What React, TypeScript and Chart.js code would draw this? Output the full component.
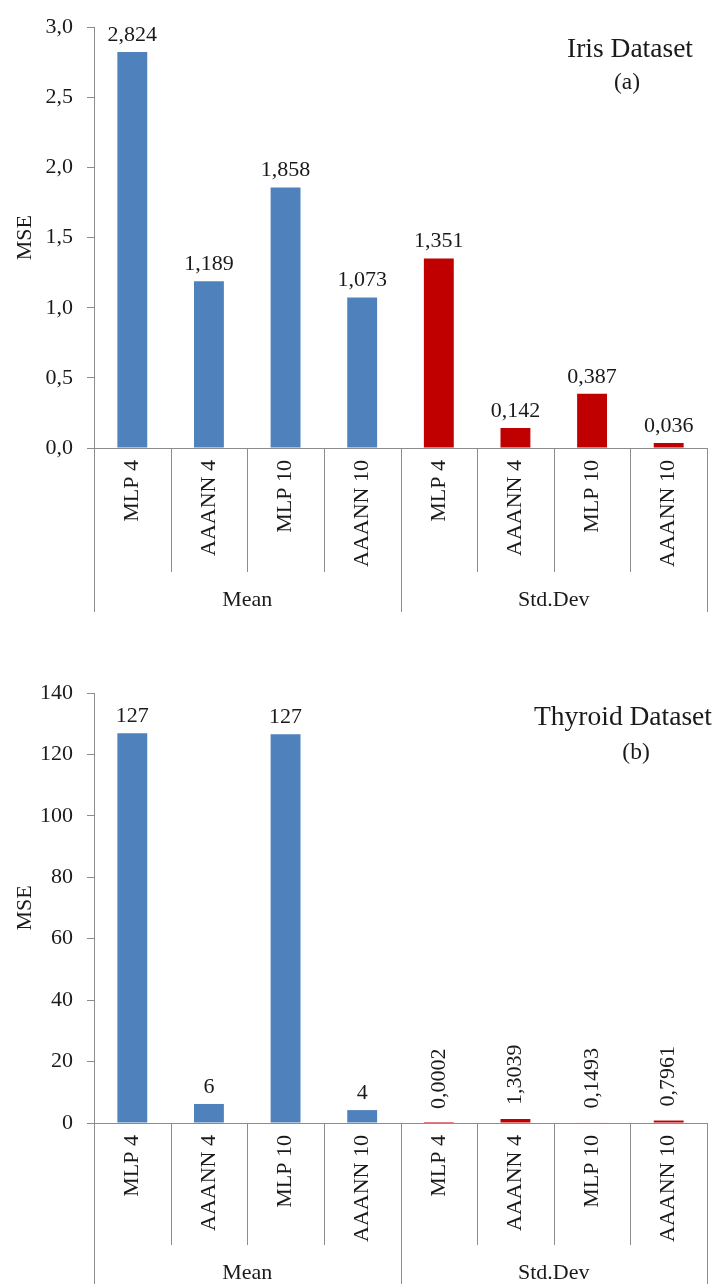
import React, { useEffect, useRef } from 'react';
import { Chart, registerables } from 'chart.js';

Chart.register(...registerables);

// ---------- data ----------
const categories = ['MLP 4', 'AAANN 4', 'MLP 10', 'AAANN 10', 'MLP 4', 'AAANN 4', 'MLP 10', 'AAANN 10'];
const groups = ['Mean', 'Std.Dev'];
const groupSizes = [4, 4];

const irisValues = [2.824, 1.189, 1.858, 1.073, 1.351, 0.142, 0.387, 0.036];
const irisLabels = ['2,824', '1,189', '1,858', '1,073', '1,351', '0,142', '0,387', '0,036'];
const irisYMax = 3;
const irisYStep = 0.5;

const thyroidValues = [126.9, 6.2, 126.6, 4.2, 0.0002, 1.3039, 0.1493, 0.7961];
const thyroidLabels = ['127', '6', '127', '4', '0,0002', '1,3039', '0,1493', '0,7961'];
const thyroidYMax = 140;
const thyroidYStep = 20;

// ---------- styles ----------
const FONT = '"Liberation Serif", "Times New Roman", serif';
const FS = 22;
const BLUE = '#4F81BD';
const RED = '#C00000';
const AXIS = '#8c8c8c';
const TEXT = '#1a1a1a';

const groupColors = [BLUE, RED];
const barColors: string[] = [];
groups.forEach((_, gi) => {
  for (let k = 0; k < groupSizes[gi]; k++) barColors.push(groupColors[gi]);
});

const decorPlugin = {
  id: 'decor',
  afterDraw(chart: any, _args: any, opts: any) {
    const { ctx, chartArea } = chart;
    const x = chart.scales.x;
    ctx.save();
    ctx.fillStyle = TEXT;
    ctx.font = `${FS}px ${FONT}`;

    // value labels
    const meta = chart.getDatasetMeta(0);
    meta.data.forEach((bar: any, i: number) => {
      const text = opts.valueLabels[i];
      const bx = bar.x;
      const by = bar.y;
      if (opts.rotated && opts.rotated[i]) {
        ctx.save();
        ctx.translate(bx, by - 14);
        ctx.rotate(-Math.PI / 2);
        ctx.textAlign = 'left';
        ctx.textBaseline = 'middle';
        ctx.fillText(text, 0, 0);
        ctx.restore();
      } else {
        ctx.textAlign = 'center';
        ctx.textBaseline = 'alphabetic';
        ctx.fillText(text, bx, by - 11);
      }
    });

    // category dividers & group boxes
    const n = categories.length;
    const edges: number[] = [];
    for (let i = 0; i <= n; i++) {
      if (i === 0) edges.push(x.left);
      else if (i === n) edges.push(x.right);
      else edges.push((x.getPixelForValue(i - 1) + x.getPixelForValue(i)) / 2);
    }
    const boundaries = new Set<number>([0]);
    let acc = 0;
    groupSizes.forEach((s) => {
      acc += s;
      boundaries.add(acc);
    });
    const axisY = chartArea.bottom;
    ctx.strokeStyle = AXIS;
    ctx.lineWidth = 1;
    edges.forEach((ex, i) => {
      const len = boundaries.has(i) ? opts.groupLineLen : opts.dividerLen;
      const px = Math.round(ex) + 0.5;
      ctx.beginPath();
      ctx.moveTo(px, axisY);
      ctx.lineTo(px, axisY + len);
      ctx.stroke();
    });

    // group labels
    ctx.textAlign = 'center';
    ctx.textBaseline = 'middle';
    let start = 0;
    groups.forEach((g, gi) => {
      const end = start + groupSizes[gi];
      const cx = (edges[start] + edges[end]) / 2;
      ctx.fillText(g, cx, axisY + opts.groupLabelOffset);
      start = end;
    });

    // titles
    (opts.titles || []).forEach((t: any) => {
      ctx.font = `${t.size}px ${FONT}`;
      ctx.textAlign = 'center';
      ctx.textBaseline = 'middle';
      ctx.fillText(t.text, t.x, t.y);
    });
    ctx.restore();
  },
};

function makeConfig(p: {
  values: number[];
  yMax: number;
  yStep: number;
  fmt: (v: number) => string;
  padTop: number;
  xHeight: number;
  decor: any;
}): any {
  return {
    type: 'bar',
    data: {
      labels: categories,
      datasets: [
        {
          data: p.values,
          backgroundColor: barColors,
          borderWidth: 0,
          barPercentage: 0.39,
          categoryPercentage: 1,
        },
      ],
    },
    options: {
      responsive: false,
      animation: false,
      devicePixelRatio: 1,
      layout: { padding: { top: p.padTop, right: 6, left: 0, bottom: 0 } },
      plugins: {
        legend: { display: false },
        tooltip: { enabled: false },
        decor: p.decor,
      },
      scales: {
        x: {
          ticks: {
            autoSkip: false,
            minRotation: 90,
            maxRotation: 90,
            padding: 12,
            color: TEXT,
            font: { family: FONT, size: FS },
          },
          grid: { display: false, drawTicks: false },
          border: { display: true, color: AXIS, width: 1 },
          afterFit: (s: any) => {
            s.height = p.xHeight;
          },
        },
        y: {
          min: 0,
          max: p.yMax,
          ticks: {
            stepSize: p.yStep,
            padding: 14,
            color: TEXT,
            font: { family: FONT, size: FS },
            callback: (v: any) => p.fmt(Number(v)),
          },
          grid: { drawOnChartArea: false, drawTicks: true, tickLength: 7, color: AXIS },
          border: { display: true, color: AXIS, width: 1 },
          title: {
            display: true,
            text: 'MSE',
            color: TEXT,
            font: { family: FONT, size: FS },
            padding: { top: 12, bottom: 0 },
          },
          afterFit: (s: any) => {
            s.width = 94;
          },
        },
      },
    },
    plugins: [decorPlugin],
  };
}

function BarChart(props: { width: number; height: number; top: number; config: any }) {
  const ref = useRef<HTMLCanvasElement | null>(null);
  useEffect(() => {
    if (!ref.current) return;
    const chart = new Chart(ref.current, props.config);
    return () => chart.destroy();
  }, []);
  return (
    <canvas
      ref={ref}
      width={props.width}
      height={props.height}
      style={{ position: 'absolute', left: 0, top: props.top, width: props.width, height: props.height }}
    />
  );
}

export default function App() {
  const irisConfig = makeConfig({
    values: irisValues,
    yMax: irisYMax,
    yStep: irisYStep,
    fmt: (v) => v.toFixed(1).replace('.', ','),
    padTop: 18,
    xHeight: 640 - 448,
    decor: {
      valueLabels: irisLabels,
      rotated: irisValues.map(() => false),
      dividerLen: 124,
      groupLineLen: 164,
      groupLabelOffset: 152,
      titles: [
        { text: 'Iris Dataset', x: 630, y: 50, size: 27.5 },
        { text: '(a)', x: 627, y: 83, size: 23.5 },
      ],
    },
  });
  const thyroidConfig = makeConfig({
    values: thyroidValues,
    yMax: thyroidYMax,
    yStep: thyroidYStep,
    fmt: (v) => String(Math.round(v)),
    padTop: 33,
    xHeight: 624 - 463,
    decor: {
      valueLabels: thyroidLabels,
      rotated: categories.map((_, i) => i >= groupSizes[0]),
      dividerLen: 122,
      groupLineLen: 200,
      groupLabelOffset: 150,
      titles: [
        { text: 'Thyroid Dataset', x: 623, y: 58, size: 27.5 },
        { text: '(b)', x: 636, y: 93, size: 23.5 },
      ],
    },
  });
  return (
    <div style={{ position: 'absolute', left: 0, top: 0, width: 713, height: 1284, background: '#fff', overflow: 'hidden' }}>
      <BarChart width={713} height={640} top={0} config={irisConfig} />
      <BarChart width={713} height={624} top={660} config={thyroidConfig} />
    </div>
  );
}
